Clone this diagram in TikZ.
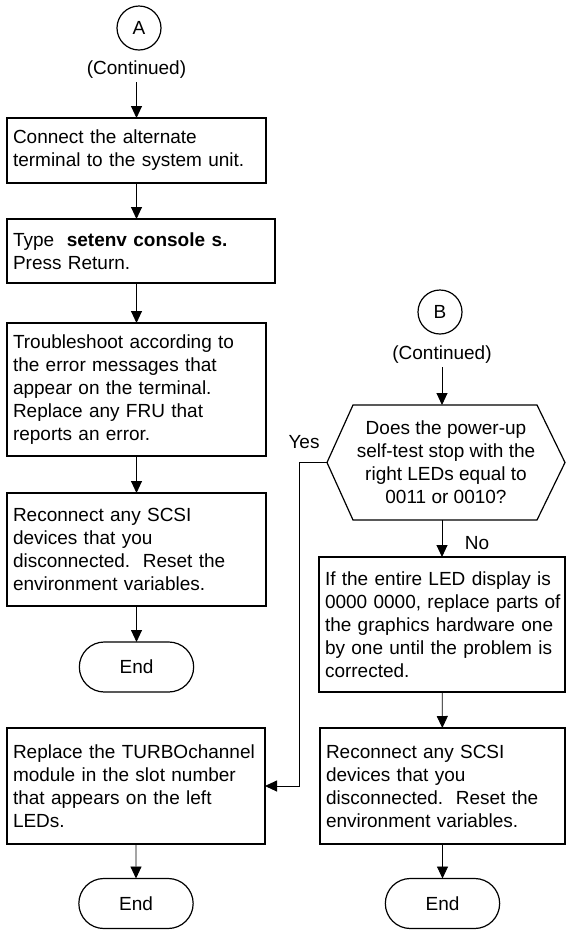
\documentclass[tikz,border=0pt]{standalone}
\usepackage{fontspec}
\setmainfont{Liberation Sans}
\usetikzlibrary{positioning,calc,shapes.misc,arrows.meta}

\tikzset{
  stepbox/.style={draw, line width=1.2pt, rectangle, anchor=north west, align=left, inner xsep=6pt, inner ysep=3pt, outer sep=0pt},
  endbox/.style={draw, line width=1.2pt, rounded rectangle, minimum width=121pt, minimum height=50pt, outer sep=0pt},
  tagcircle/.style={draw, line width=1.2pt, circle, minimum size=44pt, inner sep=0pt, outer sep=0pt},
  conn/.style={line width=0.9pt, -{Triangle[length=12pt,width=11pt]}},
}

\begin{document}
\begin{tikzpicture}[x=1pt, y=-1pt, font=\fontsize{19}{23}\selectfont]
			\useasboundingbox (0,0) rectangle (567,930);
			\node [tagcircle] (A) at (139,28) {A};
			\node (contA) at (136.5,70) {(Continued)};
			\node [stepbox, text width=247pt, minimum height=65pt] (b1) at (7,118) {Connect the alternate\\terminal to the system unit.};
			\node [stepbox, text width=256pt, minimum height=64pt] (b2) at (7,219) {Type\ \ \textbf{setenv console s.}\\Press Return.};
			\node [stepbox, text width=247pt, minimum height=133pt] (b3) at (7,323) {Troubleshoot according to\\the error messages that\\appear on the terminal.\\Replace any FRU that\\reports an error.};
			\node [stepbox, text width=247pt, minimum height=113pt] (b4) at (7,493) {Reconnect any SCSI\\devices that you\\disconnected.\ \ Reset the\\environment variables.};
			\node [endbox] (end1) at (136.5,667) {End};
			\node [stepbox, text width=246pt, minimum height=116pt] (b5) at (7,728) {Replace the TURBOchannel\\module in the slot number\\that appears on the left\\LEDs.};
			\node [endbox] (end2) at (136,903.5) {End};
			\node [tagcircle] (B) at (440,312) {B};
			\node (contB) at (442,355) {(Continued)};
			\node [minimum width=238pt, minimum height=115pt, outer sep=0pt, align=center] (test) at (446,462.5) {Does the power-up\\self-test stop with the\\right LEDs equal to\\0011 or 0010?};
			\draw [line width=1.2pt] (test.west) -- ($(test.north west)+(26,0)$) -- ($(test.north east)+(-28,0)$) -- (test.east) -- ($(test.south east)+(-28,0)$) -- ($(test.south west)+(26,0)$) -- cycle;
			\node (yes) at (304,442) {Yes};
			\node (no) at (477,543) {No};
			\node [stepbox, text width=234pt, minimum height=135pt] (b6) at (319,557) {If the entire LED display is\\\mbox{0000 0000, replace parts of}\\the graphics hardware one\\by one until the problem is\\corrected.};
			\node [stepbox, text width=233pt, minimum height=116pt] (b7) at (320,728) {Reconnect any SCSI\\devices that you\\disconnected.\ \ Reset the\\environment variables.};
			\node [endbox] (end3) at (442.5,903.5) {End};
			\draw [conn] (contA) -- (contA |- b1.north);
			\draw [conn] (b1) -- (b1 |- b2.north);
			\draw [conn] (b2.south -| b3) -- (b3);
			\draw [conn] (b3) -- (b4);
			\draw [conn] (b4) -- (end1);
			\draw [conn] (b5) -- (end2);
			\draw [conn] (contB) -- (contB |- test.north);
			\draw [conn] (test.south -| b6) -- (b6);
			\draw [conn] (b6) -- (b7);
			\draw [conn] (b7) -- (b7 |- end3.north);
			\draw [conn] (test.west) -- ++(-28,0) |- (b5.east);
		\end{tikzpicture}
\end{document}
